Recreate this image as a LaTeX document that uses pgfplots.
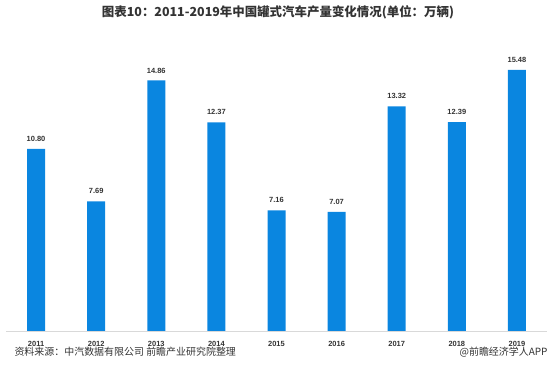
\documentclass[border=0pt]{standalone}
\usepackage{pgfplots}
\pgfplotsset{compat=1.18}
\usepackage{fontspec}
\setmainfont{Liberation Sans}
\newfontfamily\cjk{Noto Sans CJK SC}
\definecolor{barblue}{RGB}{10,134,224}
\definecolor{txt}{RGB}{51,51,51}
\definecolor{axgray}{RGB}{217,217,217}
\begin{document}
\begin{tikzpicture}
\path[use as bounding box] (0,0) rectangle (556bp,379bp);
\begin{axis}[
  at={(6bp,48bp)}, anchor=south west,
  scale only axis, width=541bp, height=303.5bp,
  xmin=-0.5, xmax=8.5, ymin=0, ymax=18,
  axis x line=bottom, axis y line=none,
  axis line style={-, draw=axgray, line width=0.8pt},
  xtick={0,...,8},
  xticklabels={2011,2012,2013,2014,2015,2016,2017,2018,2019},
  major tick length=0pt,
  xticklabel style={font=\bfseries\fontsize{7.5}{8}\selectfont, text=txt, anchor=center, yshift=-13bp},
  ybar, bar width=18bp,
  /pgf/number format/assume math mode=true,
  nodes near coords={\pgfmathprintnumber[fixed,fixed zerofill,precision=2,assume math mode=true]{\pgfplotspointmeta}},
  every node near coord/.append style={font=\bfseries\fontsize{7.5}{8}\selectfont, text=txt, anchor=center, yshift=10bp},
]
\addplot[fill=barblue, draw=none] coordinates {
(0,10.80) (1,7.69) (2,14.86) (3,12.37) (4,7.16) (5,7.07) (6,13.32) (7,12.39) (8,15.48)};
\end{axis}
\node[font=\cjk\bfseries\fontsize{12.5}{14}\selectfont, text=txt] at (278bp,367bp) {图表10：2011-2019年中国罐式汽车产量变化情况(单位：万辆)};
\node[font=\cjk\fontsize{10}{12}\selectfont, text=txt, anchor=west] at (11bp,27bp) {资料来源：中汽数据有限公司 前瞻产业研究院整理};
\node[font=\cjk\fontsize{10}{12}\selectfont, text=txt, anchor=east] at (551bp,27bp) {@前瞻经济学人APP};
\end{tikzpicture}
\end{document}
